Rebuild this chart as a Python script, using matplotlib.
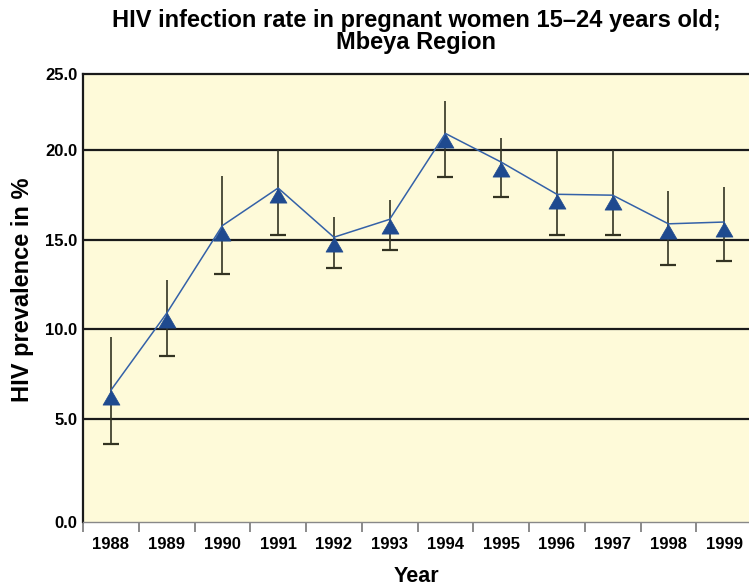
import matplotlib
matplotlib.use("Agg")
import matplotlib.pyplot as plt
import numpy as np
from matplotlib.ticker import FixedLocator

# ---- data ----
years = ["1988", "1989", "1990", "1991", "1992", "1993",
         "1994", "1995", "1996", "1997", "1998", "1999"]
prevalence = [6.6, 10.9, 15.8, 17.9, 15.15, 16.15, 20.95, 19.35, 17.55, 17.5, 15.9, 16.0]
upper = [9.55, 12.75, 18.55, 20.0, 16.3, 17.25, 22.75, 20.7, 20.05, 20.05, 17.75, 17.95]
lower = [3.6, 8.5, 13.1, 15.25, 13.45, 14.45, 18.5, 17.4, 15.3, 15.3, 13.6, 13.8]

grid_values = [5, 10, 15, 20]
grid_labels = ["5.0", "10.0", "15.0", "20.0"]
y_bottom, y_top = -0.73, 24.27
edge_labels = ["0.0", "25.0"]

title_lines = ["HIV infection rate in pregnant women 15–24 years old;", "Mbeya Region"]
xlabel = "Year"
ylabel = "HIV prevalence in %"

plt.rcParams['font.family'] = ['Liberation Sans', 'DejaVu Sans']

W, H = 749, 587
fig = plt.figure(figsize=(W / 100, H / 100), dpi=100)
ax = fig.add_axes([83 / W, (H - 521.5) / H, (752 - 83) / W, (521.5 - 74) / H])
ax.set_facecolor("#fefad9")

x = np.arange(len(years))
ax.set_xlim(-0.5, len(years) - 0.5)
ax.set_ylim(y_bottom, y_top)

# gridlines
for g in grid_values:
    ax.axhline(g, color="#1a1a1a", lw=1.6, zorder=1)

# error bars: vertical line, cap only at lower end
ax.vlines(x, lower, upper, color="#333322", lw=1.2, zorder=2)
ax.plot(x, lower, linestyle="none", marker="_", markersize=12,
        markeredgewidth=1.6, color="#333322", zorder=2)

# triangle markers with apex at the data point
tri = [(0, 0), (-0.58, -1.0), (0.58, -1.0), (0, 0)]
ax.plot(x, prevalence, linestyle="none", marker=tri, markersize=21,
        markerfacecolor="#1f4a8f", markeredgecolor="#1f4a8f", markeredgewidth=0.5, zorder=3)
ax.plot(x, prevalence, color="#3461a8", lw=1.1, zorder=4)

# y ticks
yt = [y_bottom] + grid_values + [y_top]
ytl = [edge_labels[0]] + grid_labels + [edge_labels[1]]
ax.set_yticks(yt)
ax.set_yticklabels(ytl, fontsize=12, fontweight="bold")
ax.tick_params(axis="y", length=0, pad=4)

# x ticks: labels at centers, tick marks at boundaries
ax.set_xticks(x)
ax.set_xticklabels(years, fontsize=12, fontweight="bold")
ax.tick_params(axis="x", which="major", length=0, pad=11)
ax.xaxis.set_minor_locator(FixedLocator(np.arange(-0.5, len(years), 1.0)))
ax.tick_params(axis="x", which="minor", length=7.5, width=1.2, color="#777777")

for side in ["top", "left"]:
    ax.spines[side].set_color("#1a1a1a")
    ax.spines[side].set_linewidth(1.6)
ax.spines["bottom"].set_color("#888888")
ax.spines["bottom"].set_linewidth(1.0)
ax.spines["right"].set_visible(False)

fig.text(416 / W, 1 - 20 / H, title_lines[0], ha="center", va="center",
         fontsize=17, fontweight="bold")
fig.text(416 / W, 1 - 43 / H, title_lines[1], ha="center", va="center",
         fontsize=17, fontweight="bold")
fig.text(23 / W, 1 - 290 / H, ylabel, rotation=90, ha="center", va="center",
         fontsize=17, fontweight="bold")
fig.text(416 / W, 1 - 576 / H, xlabel, ha="center", va="center",
         fontsize=15.5, fontweight="bold")

fig.savefig("out.png", dpi=100)
